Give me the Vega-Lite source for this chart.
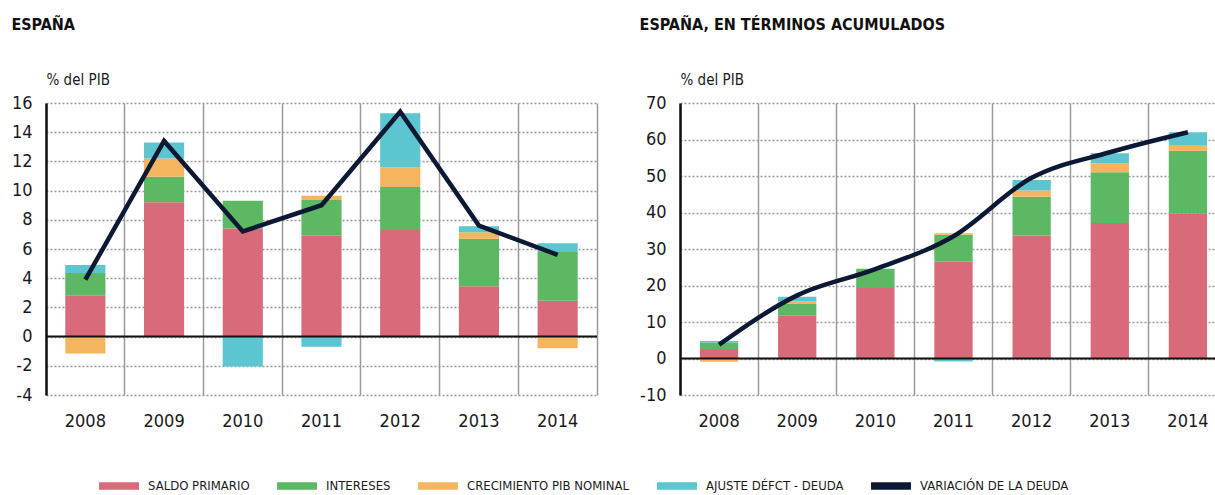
{
  "$schema": "https://vega.github.io/schema/vega-lite/v6.json",
  "padding": {"left": 11, "top": 17, "right": 0, "bottom": 0},
  "spacing": 41,
  "background": "white",
  "config": {
    "font": "DejaVu Sans Condensed, Liberation Sans, sans-serif",
    "view": {"stroke": null},
    "axis": {"labelColor": "#1a1a1a", "titleColor": "#1a1a1a"},
    "title": {"color": "#111", "fontSize": 16, "fontWeight": "bold", "anchor": "start", "frame": "bounds", "offset": 39}
  },
  "datasets": {
    "comp1": [
      {"year": "2008", "serie": "SALDO PRIMARIO", "value": 2.8},
      {"year": "2008", "serie": "INTERESES", "value": 1.55},
      {"year": "2008", "serie": "CRECIMIENTO PIB NOMINAL", "value": -1.15},
      {"year": "2008", "serie": "AJUSTE DÉFCT - DEUDA", "value": 0.55},
      {"year": "2009", "serie": "SALDO PRIMARIO", "value": 9.2},
      {"year": "2009", "serie": "INTERESES", "value": 1.75},
      {"year": "2009", "serie": "CRECIMIENTO PIB NOMINAL", "value": 1.25},
      {"year": "2009", "serie": "AJUSTE DÉFCT - DEUDA", "value": 1.1},
      {"year": "2010", "serie": "SALDO PRIMARIO", "value": 7.4},
      {"year": "2010", "serie": "INTERESES", "value": 1.9},
      {"year": "2010", "serie": "CRECIMIENTO PIB NOMINAL", "value": 0},
      {"year": "2010", "serie": "AJUSTE DÉFCT - DEUDA", "value": -2.05},
      {"year": "2011", "serie": "SALDO PRIMARIO", "value": 6.9},
      {"year": "2011", "serie": "INTERESES", "value": 2.45},
      {"year": "2011", "serie": "CRECIMIENTO PIB NOMINAL", "value": 0.3},
      {"year": "2011", "serie": "AJUSTE DÉFCT - DEUDA", "value": -0.7},
      {"year": "2012", "serie": "SALDO PRIMARIO", "value": 7.3},
      {"year": "2012", "serie": "INTERESES", "value": 2.95},
      {"year": "2012", "serie": "CRECIMIENTO PIB NOMINAL", "value": 1.35},
      {"year": "2012", "serie": "AJUSTE DÉFCT - DEUDA", "value": 3.7},
      {"year": "2013", "serie": "SALDO PRIMARIO", "value": 3.45},
      {"year": "2013", "serie": "INTERESES", "value": 3.25},
      {"year": "2013", "serie": "CRECIMIENTO PIB NOMINAL", "value": 0.45},
      {"year": "2013", "serie": "AJUSTE DÉFCT - DEUDA", "value": 0.4},
      {"year": "2014", "serie": "SALDO PRIMARIO", "value": 2.45},
      {"year": "2014", "serie": "INTERESES", "value": 3.35},
      {"year": "2014", "serie": "CRECIMIENTO PIB NOMINAL", "value": -0.8},
      {"year": "2014", "serie": "AJUSTE DÉFCT - DEUDA", "value": 0.6}
    ],
    "line1": [
      {"year": "2008", "serie": "VARIACIÓN DE LA DEUDA", "value": 3.9},
      {"year": "2009", "serie": "VARIACIÓN DE LA DEUDA", "value": 13.4},
      {"year": "2010", "serie": "VARIACIÓN DE LA DEUDA", "value": 7.2},
      {"year": "2011", "serie": "VARIACIÓN DE LA DEUDA", "value": 9.0},
      {"year": "2012", "serie": "VARIACIÓN DE LA DEUDA", "value": 15.4},
      {"year": "2013", "serie": "VARIACIÓN DE LA DEUDA", "value": 7.6},
      {"year": "2014", "serie": "VARIACIÓN DE LA DEUDA", "value": 5.6}
    ],
    "comp2": [
      {"year": "2008", "serie": "SALDO PRIMARIO", "value": 2.6},
      {"year": "2008", "serie": "INTERESES", "value": 1.8},
      {"year": "2008", "serie": "CRECIMIENTO PIB NOMINAL", "value": -0.9},
      {"year": "2008", "serie": "AJUSTE DÉFCT - DEUDA", "value": 0.4},
      {"year": "2009", "serie": "SALDO PRIMARIO", "value": 11.7},
      {"year": "2009", "serie": "INTERESES", "value": 3.2},
      {"year": "2009", "serie": "CRECIMIENTO PIB NOMINAL", "value": 0.7},
      {"year": "2009", "serie": "AJUSTE DÉFCT - DEUDA", "value": 1.3},
      {"year": "2010", "serie": "SALDO PRIMARIO", "value": 19.3},
      {"year": "2010", "serie": "INTERESES", "value": 5.3},
      {"year": "2010", "serie": "CRECIMIENTO PIB NOMINAL", "value": 0},
      {"year": "2010", "serie": "AJUSTE DÉFCT - DEUDA", "value": 0},
      {"year": "2011", "serie": "SALDO PRIMARIO", "value": 26.5},
      {"year": "2011", "serie": "INTERESES", "value": 7.4},
      {"year": "2011", "serie": "CRECIMIENTO PIB NOMINAL", "value": 0.4},
      {"year": "2011", "serie": "AJUSTE DÉFCT - DEUDA", "value": -0.8},
      {"year": "2012", "serie": "SALDO PRIMARIO", "value": 33.7},
      {"year": "2012", "serie": "INTERESES", "value": 10.6},
      {"year": "2012", "serie": "CRECIMIENTO PIB NOMINAL", "value": 1.7},
      {"year": "2012", "serie": "AJUSTE DÉFCT - DEUDA", "value": 2.9},
      {"year": "2013", "serie": "SALDO PRIMARIO", "value": 37.1},
      {"year": "2013", "serie": "INTERESES", "value": 13.9},
      {"year": "2013", "serie": "CRECIMIENTO PIB NOMINAL", "value": 2.5},
      {"year": "2013", "serie": "AJUSTE DÉFCT - DEUDA", "value": 2.7},
      {"year": "2014", "serie": "SALDO PRIMARIO", "value": 39.7},
      {"year": "2014", "serie": "INTERESES", "value": 17.2},
      {"year": "2014", "serie": "CRECIMIENTO PIB NOMINAL", "value": 1.4},
      {"year": "2014", "serie": "AJUSTE DÉFCT - DEUDA", "value": 3.7}
    ],
    "line2": [
      {"year": "2008", "serie": "VARIACIÓN DE LA DEUDA", "value": 3.8},
      {"year": "2009", "serie": "VARIACIÓN DE LA DEUDA", "value": 17.3},
      {"year": "2010", "serie": "VARIACIÓN DE LA DEUDA", "value": 24.5},
      {"year": "2011", "serie": "VARIACIÓN DE LA DEUDA", "value": 33.5},
      {"year": "2012", "serie": "VARIACIÓN DE LA DEUDA", "value": 49.5},
      {"year": "2013", "serie": "VARIACIÓN DE LA DEUDA", "value": 56.5},
      {"year": "2014", "serie": "VARIACIÓN DE LA DEUDA", "value": 62.0}
    ]
  },
  "resolve": {"scale": {"color": "shared"}, "legend": {"color": "shared"}},
  "hconcat": [
    {
      "width": 551,
      "height": 292,
      "title": {"text": "ESPAÑA"},
      "resolve": {"axis": {"y": "independent"}},
      "layer": [
        {
          "data": {"name": "comp1"},
          "mark": {"type": "bar", "width": {"band": 0.51}},
          "encoding": {
            "x": {"field": "year", "type": "ordinal", "scale": {"paddingInner": 0, "paddingOuter": 0},
              "axis": {"title": null, "labelAngle": 0, "labelFontSize": 18, "labelPadding": 17, "domain": false, "ticks": false,
                "grid": true, "gridColor": "#9a9a9a", "gridWidth": 1.5, "bandPosition": 0}},
            "y": {"field": "value", "type": "quantitative", "stack": "zero",
              "scale": {"domain": [-4, 16], "nice": false},
              "axis": {"values": [-4, -2, 0, 2, 4, 6, 8, 10, 12, 14, 16], "labelExpr": "replace(datum.label, '−', '-')", "title": "% del PIB", "titleAngle": 0, "titleX": 0, "titleY": -24,
                "titleAlign": "left", "titleBaseline": "middle", "titleFontSize": 15, "titleFontWeight": "normal",
                "labelFontSize": 18, "labelPadding": 14, "ticks": false, "domainColor": "#111", "domainWidth": 2.5,
                "grid": true, "gridDash": [2, 2], "gridColor": "#9a9a9a", "gridWidth": 1.5}},
            "color": {"field": "serie", "type": "nominal",
              "sort": ["SALDO PRIMARIO", "INTERESES", "CRECIMIENTO PIB NOMINAL", "AJUSTE DÉFCT - DEUDA", "VARIACIÓN DE LA DEUDA"],
              "scale": {"domain": ["SALDO PRIMARIO", "INTERESES", "CRECIMIENTO PIB NOMINAL", "AJUSTE DÉFCT - DEUDA", "VARIACIÓN DE LA DEUDA"],
                "range": ["#d86a79", "#5cb862", "#f5b45f", "#5cc5cf", "#0c1934"]},
              "legend": {"orient": "none", "legendX": 53, "legendY": 363, "direction": "horizontal", "columns": 5, "title": null,
                "labelFontSize": 13, "labelLimit": 0, "labelOffset": 9, "columnPadding": 24, "labelColor": "#1a1a1a",
                "symbolType": "M-1,-0.15H1V0.15H-1Z", "symbolSize": 1475,
                "encode": {"symbols": {"update": {"fill": {"scale": "color", "field": "value"}, "stroke": {"value": "transparent"}, "shape": {"value": "M-1,-0.15H1V0.15H-1Z"}, "size": {"value": 1475}, "opacity": {"value": 1}}}}}
            }
          }
        },
        {
          "data": {"values": [{}]},
          "mark": {"type": "rule", "color": "#111", "strokeWidth": 2},
          "encoding": {"y": {"datum": 0, "type": "quantitative",
            "axis": {"orient": "right", "labels": false, "ticks": false, "grid": false, "title": null, "domainColor": "#9a9a9a", "domainWidth": 1.5}}}
        },
        {
          "data": {"name": "line1"},
          "mark": {"type": "line", "strokeWidth": 4.5, "strokeJoin": "miter"},
          "encoding": {
            "x": {"field": "year", "type": "ordinal"},
            "y": {"field": "value", "type": "quantitative", "axis": null},
            "color": {"field": "serie", "type": "nominal"}
          }
        }
      ]
    },
    {
      "width": 547,
      "height": 292,
      "title": {"text": "ESPAÑA, EN TÉRMINOS ACUMULADOS"},
      "resolve": {"axis": {"y": "independent"}},
      "layer": [
        {
          "data": {"name": "comp2"},
          "mark": {"type": "bar", "width": {"band": 0.49}},
          "encoding": {
            "x": {"field": "year", "type": "ordinal", "scale": {"paddingInner": 0, "paddingOuter": 0},
              "axis": {"title": null, "labelAngle": 0, "labelFontSize": 18, "labelPadding": 17, "domain": false, "ticks": false,
                "grid": true, "gridColor": "#9a9a9a", "gridWidth": 1.5, "bandPosition": 0}},
            "y": {"field": "value", "type": "quantitative", "stack": "zero",
              "scale": {"domain": [-10, 70], "nice": false},
              "axis": {"values": [-10, 0, 10, 20, 30, 40, 50, 60, 70], "labelExpr": "replace(datum.label, '−', '-')", "title": "% del PIB", "titleAngle": 0, "titleX": 0, "titleY": -24,
                "titleAlign": "left", "titleBaseline": "middle", "titleFontSize": 15, "titleFontWeight": "normal",
                "labelFontSize": 18, "labelPadding": 14, "ticks": false, "domainColor": "#111", "domainWidth": 2.5,
                "grid": true, "gridDash": [2, 2], "gridColor": "#9a9a9a", "gridWidth": 1.5}},
            "color": {"field": "serie", "type": "nominal",
              "sort": ["SALDO PRIMARIO", "INTERESES", "CRECIMIENTO PIB NOMINAL", "AJUSTE DÉFCT - DEUDA", "VARIACIÓN DE LA DEUDA"]}
          }
        },
        {
          "data": {"values": [{}]},
          "mark": {"type": "rule", "color": "#111", "strokeWidth": 2},
          "encoding": {"y": {"datum": 0, "type": "quantitative",
            "axis": {"orient": "right", "labels": false, "ticks": false, "grid": false, "title": null, "domainColor": "#9a9a9a", "domainWidth": 1.5}}}
        },
        {
          "data": {"name": "line2"},
          "mark": {"type": "line", "strokeWidth": 4.5, "interpolate": "monotone"},
          "encoding": {
            "x": {"field": "year", "type": "ordinal"},
            "y": {"field": "value", "type": "quantitative", "axis": null},
            "color": {"field": "serie", "type": "nominal"}
          }
        }
      ]
    }
  ]
}
